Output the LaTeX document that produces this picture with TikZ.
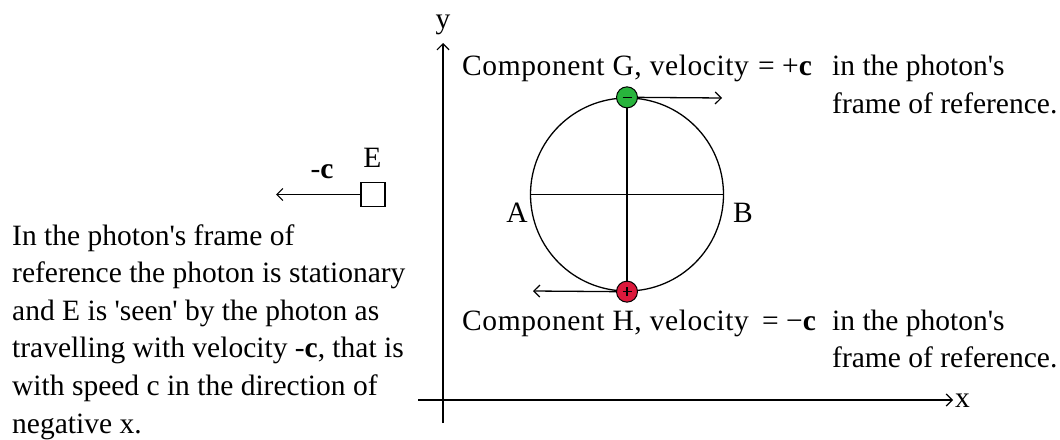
\documentclass[tikz,border=0pt]{standalone}
\usepackage{fontspec}
\setmainfont{Liberation Serif}
\usetikzlibrary{arrows.meta}
\definecolor{gdot}{RGB}{40,180,60}
\definecolor{rdot}{RGB}{220,25,60}
\newcommand\sq{\textquotesingle}
\begin{document}
\begin{tikzpicture}[x=1pt,y=-1pt,
  txt/.style={inner sep=0pt, anchor=base west, font=\fontsize{29.5}{37.6}\selectfont},
  wide/.style={txt, font=\fontsize{29.5}{37.6}\selectfont\addfontfeature{LetterSpace=2.0}},
  ln/.style={line width=1.3pt},
  arr/.style={ln, -{Straight Barb[length=6pt,width=12pt,line width=1.2pt]}},
  dot/.style={circle, draw=black, line width=1pt, minimum size=21pt, inner sep=0pt},
]
\useasboundingbox (0,0) rectangle (1060,439);
% axes
\coordinate (ybot) at (443,423);
\coordinate (ytop) at (443,43);
\draw[arr] (ybot) -- (ytop);
\node[txt, anchor=base] (ylab) at (443,28) {y};
\coordinate (xl) at (418,400);
\coordinate (xr) at (953,400);
\draw[arr] (xl) -- (xr);
\node[txt] (xlab) at (955,407) {x};
% circle
\node[circle, draw, ln, minimum size=193pt, inner sep=0pt] (circ) at (627,194.5) {};
\draw[ln] (circ.north) -- (circ.south);
\draw[ln] (circ.west) -- (circ.east);
\node[txt, anchor=base] (A) at (517,222) {A};
\node[txt, anchor=base] (B) at (743,222) {B};
% components
\node[dot, fill=gdot] (G) at (circ.north) {};
\draw[line width=1.5pt] ([xshift=-4.5pt]G.center) -- ([xshift=4.5pt]G.center);
\node[dot, fill=rdot] (H) at (circ.south) {};
\draw[line width=1.5pt] ([xshift=-4.5pt]H.center) -- ([xshift=4.5pt]H.center);
\draw[line width=1.5pt] ([yshift=-4.5pt]H.center) -- ([yshift=4.5pt]H.center);
\coordinate (Gtip) at (722,98);
\draw[arr] (G.east) -- (Gtip);
\coordinate (Htip) at (533,291);
\draw[arr] (H.west) -- (Htip);
\node[wide] (g1) at (462,75) {Component G, velocity};
\node[txt] (g2) at (758,75) {= +\textbf{c}};
\node[txt] (g3) at (832,75) {in the photon\sq s};
\node[txt] (g4) at (832,113) {frame of reference.};
\node[wide] (h1) at (462,330) {Component H, velocity};
\node[txt] (h2) at (762,330) {= −\textbf{c}};
\node[txt] (h3) at (832,330) {in the photon\sq s};
\node[txt] (h4) at (832,367) {frame of reference.};
% E
\node[draw, ln, minimum size=24pt, inner sep=0pt] (E) at (373,194.5) {};
\node[txt, anchor=base] (Elab) at (372.5,167) {E};
\node[txt, anchor=base] (clab) at (322,178) {-\textbf{c}};
\coordinate (Etip) at (276,194.5);
\draw[arr] (E.west) -- (Etip);
% paragraph
\node[txt] (p1) at (12,245) {In the photon\sq s frame of};
\node[txt] (p2) at (12,282.6) {reference the photon is stationary};
\node[txt] (p3) at (12,320.2) {and E is \sq seen\sq\ by the photon as};
\node[txt] (p4) at (12,357.8) {travelling with velocity -\textbf{c}, that is};
\node[txt] (p5) at (12,395.4) {with speed c in the direction of};
\node[txt] (p6) at (12,433) {negative x.};
\end{tikzpicture}
\end{document}
